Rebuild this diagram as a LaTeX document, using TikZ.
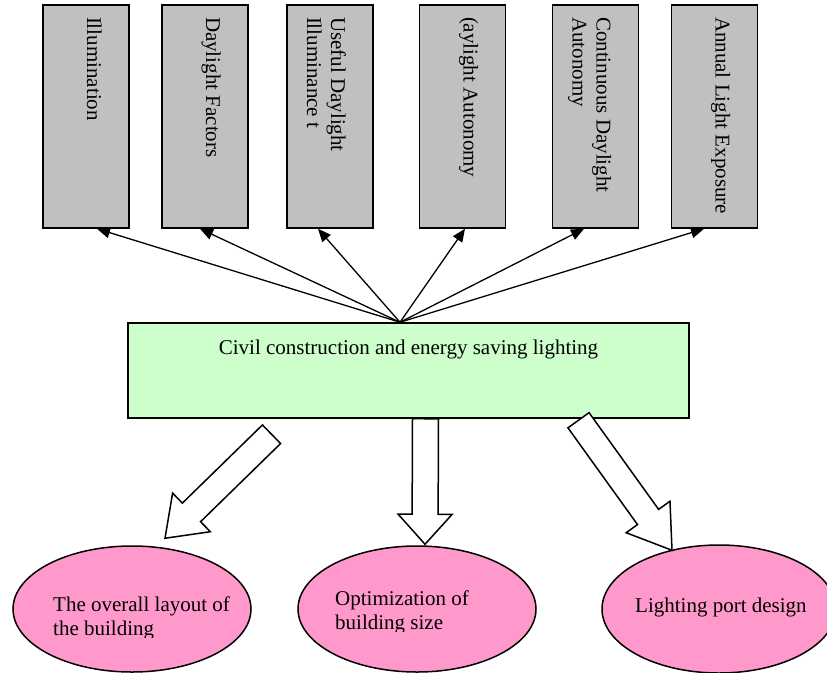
\documentclass[tikz,border=0pt]{standalone}
\usepackage{fontspec}
\setmainfont{Liberation Serif}
\usetikzlibrary{arrows.meta, positioning, shapes.geometric, calc}

\definecolor{boxgray}{HTML}{C0C0C0}
\definecolor{mintgreen}{HTML}{CCFFCC}
\definecolor{rosepink}{HTML}{FF99CC}

% text running down a box, first line kept near the right edge
\newcommand{\vlabel}[1]{\rotatebox{-90}{\parbox[c][86pt][t]{199pt}{\raggedright\vspace*{25pt}\strut #1}}}

% hollow block arrow: start, tip, head length
\newcommand{\fatarrow}[3]{%
  \coordinate (fa-h) at ($(#2)!#3pt!(#1)$);
  \draw[hollow] ($(#1)!13pt!90:(#2)$) -- ($(fa-h)!13pt!90:(#2)$) -- ($(fa-h)!27pt!90:(#2)$)
    -- (#2) -- ($(fa-h)!27pt!-90:(#2)$) -- ($(fa-h)!13pt!-90:(#2)$) -- ($(#1)!13pt!-90:(#2)$) -- cycle;
}

\begin{document}
\begin{tikzpicture}[x=1pt, y=-1pt,
    catbox/.style={draw, line width=1.5pt, fill=boxgray, minimum width=86pt, minimum height=223pt, inner sep=0pt},
    mainbox/.style={draw, line width=1.5pt, fill=mintgreen, minimum width=561pt, inner xsep=0pt, inner ysep=8pt, text height=23pt, text depth=56pt},
    goal/.style={draw, ellipse, line width=1.5pt, fill=rosepink, minimum width=238pt, minimum height=126pt, inner sep=0pt},
    goaltext/.style={inner sep=0pt, align=left},
    spoke/.style={-{Triangle[length=13pt, width=11pt]}, line width=1.3pt},
    hollow/.style={draw, line width=1.5pt, fill=white, line join=miter},
    font=\fontsize{21}{24}\selectfont]

    \useasboundingbox (0,0) rectangle (827,672);

    % indicators along the top
    \node[catbox] (b1) at (86,116.5) {\vlabel{Illumination}};
    \node[catbox] (b2) at (205,116.5) {\vlabel{Daylight Factors}};
    \node[catbox] (b3) at (330,116.5) {\vlabel{Useful Daylight\\Illuminance t}};
    \node[catbox] (b4) at (462.5,116.5) {\vlabel{(aylight Autonomy}};
    \node[catbox] (b5) at (595.5,116.5) {\vlabel{Continuous Daylight\\Autonomy}};
    \node[catbox] (b6) at (714.5,116.5) {\vlabel{Annual Light Exposure}};

    % central box
    \node[mainbox] (civil) at (408.5,370.5) {Civil construction and energy saving lighting};

    % spokes up to the indicators
    \coordinate (hub) at ([xshift=-8.5]civil.north);
    \foreach \b/\dx in {b1/11, b2/-5, b3/-12, b4/2.5, b5/-11.5, b6/-10.5}
        \draw[spoke] (hub) -- ([xshift=\dx]\b.south);

    % design measures
    \node[goal] (e1) at (132,609) {};
    \node[goal] (e2) at (417,609) {};
    \node[goal, minimum width=234pt, minimum height=128pt] (e3) at (719,609) {};

    \begin{scope}
        \clip (0,0) rectangle (827,637);
        \node[goaltext, anchor=north west] (t1) at (53,596.5) {The overall layout of\\the building};
    \end{scope}
    \begin{scope}
        \clip (0,0) rectangle (827,631);
        \node[goaltext, anchor=north west] (t2) at (335,590.5) {Optimization of\\building size};
    \end{scope}
    \node[goaltext, anchor=base west] (t3) at (635,612) {Lighting port design};

    % block arrows down to the measures
    \coordinate (s1) at ([shift={(-137,15.5)}]civil.south);
    \coordinate (a1) at ([shift={(33,-7)}]e1.north);
    \coordinate (s2) at ([shift={(17,0)}]civil.south);
    \coordinate (a2) at ([shift={(8,-1)}]e2.north);
    \coordinate (s3) at ([shift={(170,1.5)}]civil.south);
    \coordinate (a3) at ([shift={(-47,6)}]e3.north);
    \fatarrow{s1}{a1}{37}
    \fatarrow{s2}{a2}{30}
    \fatarrow{s3}{a3}{41}
\end{tikzpicture}
\end{document}
